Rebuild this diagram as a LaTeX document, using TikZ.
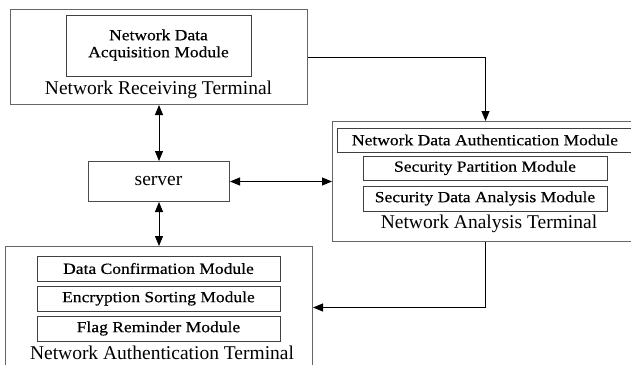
\documentclass[tikz,border=0pt]{standalone}
\usepackage{fontspec}
\setmainfont{Liberation Serif}
\newfontfamily\modfont[FakeStretch=1.13,FakeBold=0.4]{Liberation Serif}
\usetikzlibrary{arrows.meta}
\begin{document}
\begin{tikzpicture}[x=1pt,y=-1pt,
  outerbox/.style={draw=black!60,line width=1pt,anchor=north west,inner sep=0pt},
  modbox/.style={draw=black!75,line width=0.9pt,anchor=north west,inner sep=0pt},
  titletext/.style={inner sep=0pt,font=\fontsize{19.5}{22}\selectfont},
  modtext/.style={inner sep=0pt,font=\modfont\fontsize{15.5}{17}\selectfont,align=center},
  conn/.style={line width=0.9pt,black},
  tip/.tip={Triangle[length=10pt,width=8pt]}]
\useasboundingbox (0,0) rectangle (631,364);
\clip (0,0) rectangle (631,364);
\fill[white] (0,0) rectangle (631,364);

% Network Receiving Terminal
\node[outerbox,minimum width=297pt,minimum height=95pt] (recv) at (10,9) {};
\node[modbox,minimum width=185pt,minimum height=61pt] (acq) at (66,15) {};
\node[modtext] (acqT) at (158.5,45) {Network Data\\Acquisition Module};
\node[titletext] (recvT) at (158.5,90) {Network Receiving Terminal};

% server
\node[outerbox,draw=black!70,minimum width=141pt,minimum height=40pt] (server) at (88,161) {};
\node[titletext] (serverT) at (158.5,181) {server};

% Network Analysis Terminal
\node[outerbox,minimum width=306pt,minimum height=120pt] (ana) at (332,121) {};
\node[modbox,minimum width=300pt,minimum height=24pt] (nda) at (337,128) {};
\node[modtext] (ndaT) at (485,140) {Network Data Authentication Module};
\node[modbox,minimum width=244pt,minimum height=24pt] (spm) at (363,156) {};
\node[modtext] (spmT) at (485,168) {Security Partition Module};
\node[modbox,minimum width=244pt,minimum height=25pt] (sdam) at (363,186) {};
\node[modtext] (sdamT) at (485,198.5) {Security Data Analysis Module};
\node[titletext] (anaT) at (489,224) {Network Analysis Terminal};

% Network Authentication Terminal
\node[outerbox,minimum width=307pt,minimum height=122pt] (auth) at (5,246) {};
\node[modbox,minimum width=243pt,minimum height=25pt] (dcm) at (37,256) {};
\node[modtext] (dcmT) at (158.5,268.5) {Data Confirmation Module};
\node[modbox,minimum width=243pt,minimum height=25pt] (esm) at (37,286) {};
\node[modtext] (esmT) at (158.5,298.5) {Encryption Sorting Module};
\node[modbox,minimum width=243pt,minimum height=25pt] (frm) at (37,316) {};
\node[modtext] (frmT) at (158.5,328.5) {Flag Reminder Module};
\node[titletext] (authT) at (162,353) {Network Authentication Terminal};

% connectors
\draw[conn,{tip}-{tip}] (recv.south) -- (server.north);
\draw[conn,{tip}-{tip}] (server.south) -- (auth.north);
\draw[conn,{tip}-{tip}] (server.east) -- (ana.west);
\draw[conn,-{tip}] (recv.east) -| (ana.north);
\draw[conn,-{tip}] (ana.south) |- (auth.east);
\end{tikzpicture}
\end{document}
